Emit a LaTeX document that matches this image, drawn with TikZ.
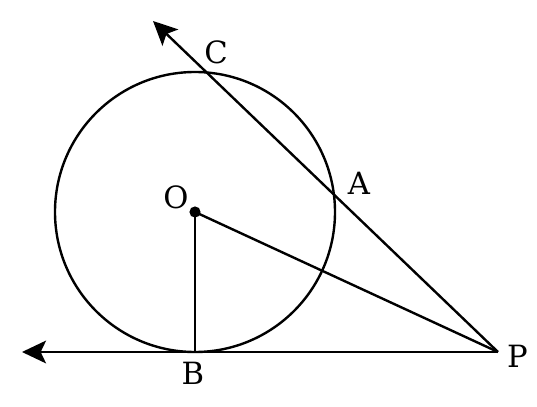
\documentclass[tikz,border=0pt]{standalone}
\usepackage{fontspec}
\setmainfont{DejaVu Serif}
\usetikzlibrary{arrows.meta}
\begin{document}
\begin{tikzpicture}[x=0.75pt,y=-0.75pt,
  geo/.style={line width=1.8pt,draw=black},
  arr/.style={geo,-{Stealth[length=18pt,width=17pt,inset=4pt]}},
  lbl/.style={font=\fontsize{23}{27}\selectfont,inner sep=0pt}]
\useasboundingbox (0,0) rectangle (537,407);
\coordinate (O) at (195,212);
\coordinate (B) at (195,352);
\coordinate (P) at (498,352);
\coordinate (Ct) at (153,21);
\coordinate (Lt) at (22,352);
\draw[geo] (O) circle[radius=105pt];
\draw[arr] (P) -- (Ct);
\draw[arr] (P) -- (Lt);
\draw[geo] (O) -- (B);
\draw[geo] (O) -- (P);
\fill (O) circle[radius=4.2pt];
\node[lbl] (lO) at (176,197.5) {O};
\node[lbl] (lC) at (216,52) {C};
\node[lbl] (lA) at (359,183) {A};
\node[lbl] (lB) at (193,373.5) {B};
\node[lbl] (lP) at (517.5,356.5) {P};
\end{tikzpicture}
\end{document}
